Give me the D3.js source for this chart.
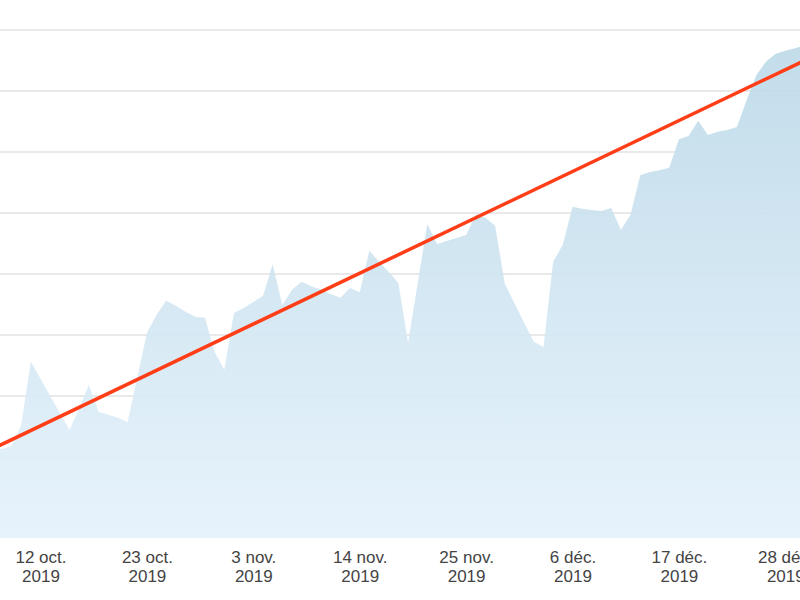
<!DOCTYPE html>
<html>
  <meta charset="utf-8" />
  <style>
    body { margin: 0; background: #fff; }
    text { font-family: "Liberation Sans", Arial, sans-serif; }
  </style>
  <svg width="800" height="600"></svg>
  <script src="https://d3js.org/d3.v7.min.js"></script>
  <script>
    // daily values, 7 oct. 2019 -> 30 déc. 2019
    const firstDay = "2019-10-07";
    const lastDay = "2019-12-30";
    const octValues = [112, 113, 118, 152, 256, 228, 200, 172, 144, 180, 218, 174, 169, 164, 157, 230, 303, 333, 356, 348, 338, 330, 328, 272, 243];
    const novValues = [336, 344, 354, 364, 416, 349, 374, 387, 380, 374, 367, 361, 377, 370, 438, 420, 403, 385, 287, 385, 482, 449, 454, 459, 464, 497, 492, 479, 384, 352];
    const decValues = [320, 289, 280, 420, 448, 510, 507, 505, 503, 508, 472, 497, 562, 567, 570, 574, 621, 626, 651, 628, 633, 636, 641, 685, 726, 748, 761, 766, 770, 775];

    // trend line end points
    const trendDates = ["2019-10-07", "2019-12-30"];
    const trendValues = [113, 750];

    const gridValues = [0, 100, 200, 300, 400, 500, 600, 700, 800];
    const tickDates = ["2019-10-12", "2019-10-23", "2019-11-03", "2019-11-14", "2019-11-25", "2019-12-06", "2019-12-17", "2019-12-28"];
    const tickLabels = ["12 oct.", "23 oct.", "3 nov.", "14 nov.", "25 nov.", "6 déc.", "17 déc.", "28 déc."];
    const tickYear = "2019";

    const parse = d3.utcParse("%Y-%m-%d");
    const days = d3.utcDays(parse(firstDay), d3.utcDay.offset(parse(lastDay), 1));
    const values = octValues.concat(novValues, decValues);
    const data = days.map((d, i) => ({ date: d, value: values[i] }));
    const trend = trendDates.map((d, i) => ({ date: parse(d), value: trendValues[i] }));

    const svg = d3.select("svg");

    const x = d3
      .scaleUtc()
      .domain([parse("2019-10-12"), parse("2019-12-06")])
      .range([40.5, 572.5]);
    const y = d3.scaleLinear().domain([-33, 800]).range([538, 30]);

    const grad = svg
      .append("defs")
      .append("linearGradient")
      .attr("id", "fill")
      .attr("gradientUnits", "userSpaceOnUse")
      .attr("x1", 0).attr("x2", 0)
      .attr("y1", y(800)).attr("y2", y(-33));
    grad.append("stop").attr("offset", 0).attr("stop-color", "#bcd9e8");
    grad.append("stop").attr("offset", 1).attr("stop-color", "#e5f2fb");

    // grid
    svg
      .append("g")
      .selectAll("line")
      .data(gridValues)
      .join("line")
      .attr("x1", 0)
      .attr("x2", 800)
      .attr("y1", (d) => y(d))
      .attr("y2", (d) => y(d))
      .attr("stroke", "#e9e9e9")
      .attr("stroke-width", 2);

    const area = d3
      .area()
      .x((d) => x(d.date))
      .y0(y(-33))
      .y1((d) => y(d.value));

    svg
      .append("path")
      .datum(data)
      .attr("d", area)
      .attr("fill", "url(#fill)")
      .attr("fill-opacity", 0.92);

    const line = d3
      .line()
      .x((d) => x(d.date))
      .y((d) => y(d.value));

    svg
      .append("path")
      .datum(trend)
      .attr("d", line)
      .attr("fill", "none")
      .attr("stroke", "#ff3d17")
      .attr("stroke-width", 3.5);

    // x axis, two-line labels
    const axis = svg
      .append("g")
      .attr("transform", "translate(0,538)")
      .call(
        d3
          .axisBottom(x)
          .tickValues(tickDates.map(parse))
          .tickSize(0)
          .tickFormat("")
      );
    axis.select(".domain").remove();
    axis
      .selectAll(".tick text")
      .attr("fill", "#444")
      .attr("font-size", 17)
      .attr("y", 0)
      .attr("dy", null)
      .each(function (d, i) {
        const t = d3.select(this);
        t.append("tspan").attr("x", 0).attr("y", 25).text(tickLabels[i]);
        t.append("tspan").attr("x", 0).attr("y", 44).text(tickYear);
      });
  </script>
</html>
